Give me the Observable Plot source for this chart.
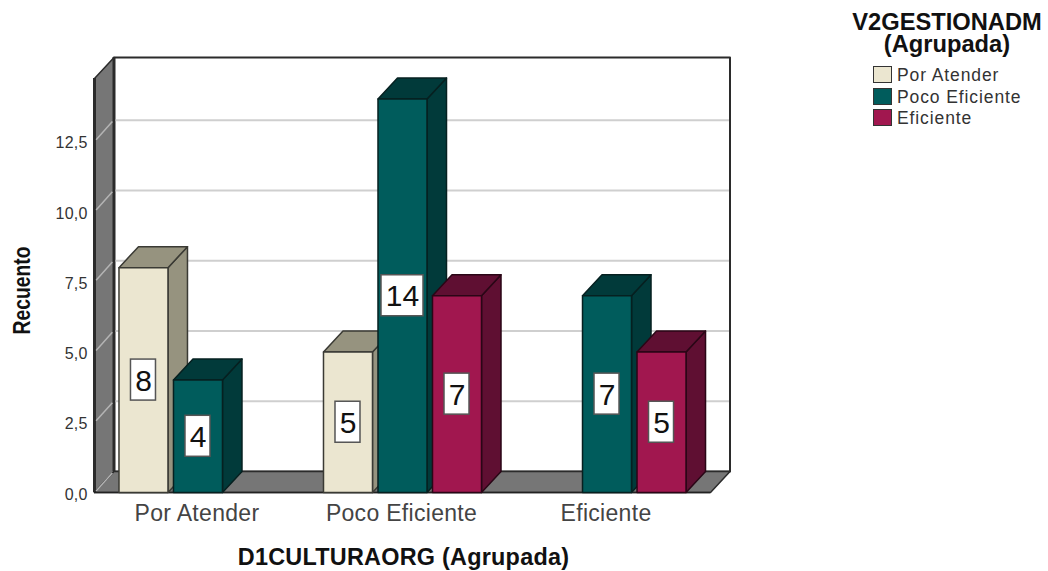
<!DOCTYPE html>
<html>
<head>
<meta charset="utf-8">
<script src="https://cdn.jsdelivr.net/npm/d3@7"></script>
<script src="https://cdn.jsdelivr.net/npm/@observablehq/plot@0.6"></script>
<style>
  html, body { margin: 0; background: #fff; }
  body { width: 1048px; height: 571px; position: relative; overflow: hidden; font-family: "Liberation Sans", Arial, sans-serif; }
  #chart svg { display: block; }
  .val-axis text { letter-spacing: .2px; }
  .cat-axis text { letter-spacing: .3px; }
  .x-title text { letter-spacing: .25px; }
  #legend { position: absolute; left: 840px; top: 0; width: 214px; color: #333; }
  #legend .title { position: absolute; left: 0; top: 11px; width: 214px; text-align: center; font: bold 23.7px/22px "Liberation Sans", Arial, sans-serif; color: #111; }
  #legend .row { position: absolute; left: 33px; height: 17px; white-space: nowrap; font-size: 17.5px; line-height: 17px; letter-spacing: .9px; }
  #legend .swatch { position: absolute; left: 0; top: 0; width: 17px; height: 15px; border: 1.5px solid #333; }
  #legend .name { position: absolute; left: 24px; top: 1px; }
</style>
</head>
<body>
<div id="chart"></div>
<div id="legend"></div>
<script>
// Cross-tabulated counts: D1CULTURAORG groups, coloured by V2GESTIONADM
const categories = ["Por Atender", "Poco Eficiente", "Eficiente"];
const seriesNames = ["Por Atender", "Poco Eficiente", "Eficiente"];
const porAtender = [8, 5, null];
const pocoEficiente = [4, 14, 7];
const eficiente = [null, 7, 5];
const yTicks = [0, 2.5, 5, 7.5, 10, 12.5];

const faceColors = ["#ebe6d0", "#005c5c", "#a1174f"];
const shadeColors = ["#96937f", "#013a3a", "#5f0f32"];
const edgeColors = ["#3a3a34", "#062020", "#2a0616"];

const xTitle = "D1CULTURAORG (Agrupada)";
const yTitle = "Recuento";
const legendTitle = ["V2GESTIONADM", "(Agrupada)"];

// Layout of the pseudo-3D box, in data units of each scale
const groupPx = 204.5, unitPx = 28.1;
const slot = 54.5 / groupPx, barW = 49 / groupPx;
const depthX = 19.5 / groupPx, depthY = 21 / unitPx;
const xMin = -0.506, xMax = 2.506, yMax = 14.73;

const values = [porAtender, pocoEficiente, eficiente];
const bars = values.flatMap((vals, s) => vals.map((v, g) => ({s, g, v})).filter(d => d.v != null))
  .sort((a, b) => (a.g - b.g) || (a.s - b.s))
  .map(d => {
    const cx = d.g + (d.s - 1) * slot;
    return {...d, cx, x0: cx - barW / 2, x1: cx + barW / 2};
  });

// Closed polygons, one row per vertex, drawn in order as filled lines
let pid = 0;
const poly = (fill, stroke, pts) => {
  const id = pid++;
  return [...pts, pts[0]].map(([x, y]) => ({id, x, y, fill, stroke}));
};

const wallEdge = "#2b2b2b", wallFill = "#767676";
const walls = [
  ...poly(wallFill, wallEdge, [[xMin, 0], [xMin, yMax], [xMin + depthX, yMax + depthY], [xMin + depthX, depthY]]),
  ...poly(wallFill, wallEdge, [[xMin, 0], [xMax, 0], [xMax + depthX, depthY], [xMin + depthX, depthY]])
];

const barFaces = bars.flatMap(({s, v, x0, x1}) => [
  ...poly(shadeColors[s], edgeColors[s], [[x1, 0], [x1 + depthX, depthY], [x1 + depthX, v + depthY], [x1, v]]),
  ...poly(shadeColors[s], edgeColors[s], [[x0, v], [x1, v], [x1 + depthX, v + depthY], [x0 + depthX, v + depthY]]),
  ...poly(faceColors[s], edgeColors[s], [[x0, 0], [x1, 0], [x1, v], [x0, v]])
]);

const labelHalfW = d => (d.v >= 10 ? 21 : 12.5) / groupPx;
const labelHalfH = 20.5 / unitPx;

const gridColor = "#cfcfcf";

const svg = Plot.plot({
  width: 1048,
  height: 571,
  marginLeft: 94,
  marginRight: 1048 - 710,
  marginTop: 78,
  marginBottom: 79,
  style: {background: "transparent", fontFamily: "'Liberation Sans', Arial, sans-serif"},
  x: {domain: [xMin, xMax]},
  y: {domain: [0, yMax]},
  color: {type: "identity"},
  marks: [
    // Back wall
    Plot.line(poly("#ffffff", wallEdge, [[xMin + depthX, depthY], [xMax + depthX, depthY], [xMax + depthX, yMax + depthY], [xMin + depthX, yMax + depthY]]),
      {x: "x", y: "y", z: "id", fill: "fill", stroke: "stroke", strokeWidth: 2}),
    // Side wall and floor
    Plot.line(walls, {x: "x", y: "y", z: "id", fill: "fill", stroke: "stroke", strokeWidth: 1.5}),
    Plot.ruleX([xMin + depthX], {y1: depthY, y2: yMax + depthY, stroke: wallEdge, strokeWidth: 3}),
    Plot.ruleX([xMin], {y1: 0, y2: yMax, stroke: wallEdge, strokeWidth: 3}),
    // Gridlines on back wall and their continuation on the side wall
    Plot.link(yTicks.filter(v => v > 0), {x1: xMin + depthX + .008, x2: xMax + depthX - .005, y1: v => v + depthY, y2: v => v + depthY, stroke: gridColor, strokeWidth: 2}),
    Plot.link(yTicks, {x1: xMin + .008, x2: xMin + depthX - .008, y1: v => v + .05, y2: v => v + depthY - .05, stroke: "#b4b4b4", strokeWidth: 1.5}),
    // Baseline
    Plot.ruleY([0], {x1: xMin, x2: xMax, stroke: "#222", strokeWidth: 1.5}),
    // Bars
    Plot.line(barFaces, {x: "x", y: "y", z: "id", fill: "fill", stroke: "stroke", strokeWidth: 1.5}),
    // Value labels
    Plot.rect(bars, {
      x1: d => d.cx - labelHalfW(d), x2: d => d.cx + labelHalfW(d),
      y1: d => d.v / 2 - labelHalfH, y2: d => d.v / 2 + labelHalfH,
      fill: "#ffffff", stroke: "#555", strokeWidth: 1.5
    }),
    Plot.text(bars, {x: "cx", y: d => d.v / 2, text: d => String(d.v), fontSize: 30, dy: 1, fill: "#111", lineAnchor: "middle"}),
    // Axes
    Plot.axisY(yTicks, {anchor: "left", tickSize: 0, tickPadding: 7, label: null, fontSize: 16, color: "#333",
      tickFormat: d => d.toFixed(1).replace(".", ","), dy: 2, className: "val-axis"}),
    Plot.axisX([0, 1, 2], {anchor: "bottom", tickSize: 0, tickPadding: 12, label: null, fontSize: 23, color: "#444", dx: -1,
      tickFormat: i => categories[i], className: "cat-axis"}),
    // Axis titles
    Plot.text([xTitle], {frameAnchor: "bottom", text: d => d, dx: 1, dy: 65, fontSize: 23.4, fontWeight: "bold", fill: "#111", lineAnchor: "middle", className: "x-title"}),
    Plot.text([yTitle], {frameAnchor: "left", text: d => d, textAnchor: "middle", rotate: -90, dx: -72, dy: 5, fontSize: 23.5, fontWeight: "bold", fill: "#111", lineAnchor: "middle", className: "y-title"})
  ]
});
document.getElementById("chart").append(svg);

// Narrow the rotated y title
d3.select(svg).selectAll(".y-title text").attr("textLength", 88).attr("lengthAdjust", "spacingAndGlyphs");

// Legend
const legend = d3.select("#legend");
legend.append("div").attr("class", "title").html(legendTitle.join("<br>"));
const rowTops = [66, 87.5, 109];
seriesNames.forEach((name, i) => {
  const row = legend.append("div").attr("class", "row").style("top", rowTops[i] + "px");
  row.append("span").attr("class", "swatch").style("background", faceColors[i]);
  row.append("span").attr("class", "name").text(name);
});
</script>
</body>
</html>
